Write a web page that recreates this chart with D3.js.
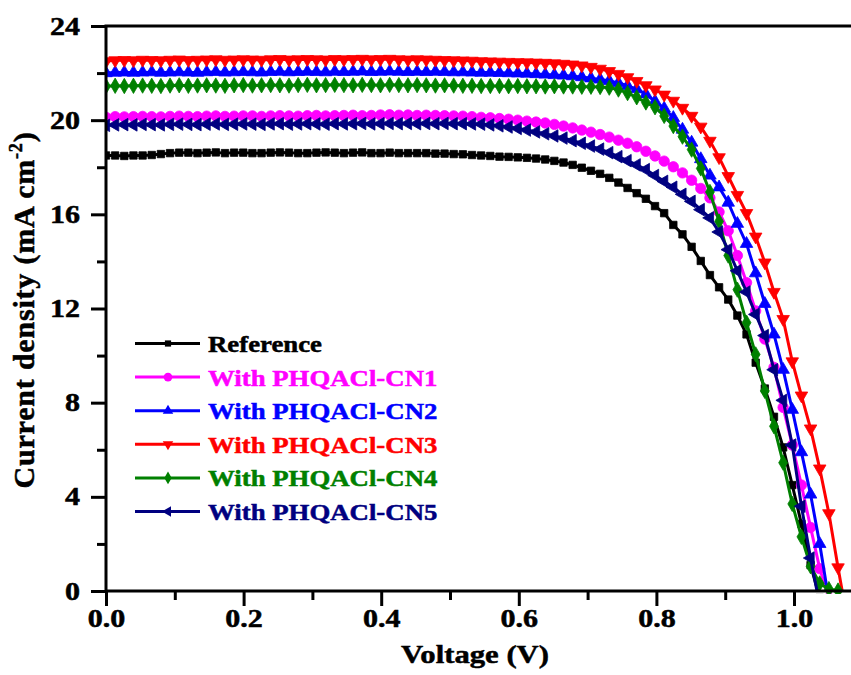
<!DOCTYPE html>
<html>
<head>
<meta charset="utf-8">
<script src="https://cdnjs.cloudflare.com/ajax/libs/d3/7.8.5/d3.min.js"></script>
<style>
body { margin: 0; background: #fff; }
svg text { font-family: "Liberation Serif", "Times New Roman", serif; font-weight: bold; stroke-width: 0.5px; }
</style>
</head>
<body>
<svg width="851" height="675"></svg>
<script>
// voltage sweep step (V)
var vStep = 0.0133;

var seriesNames = ["Reference", "With PHQACl-CN1", "With PHQACl-CN2", "With PHQACl-CN3", "With PHQACl-CN4", "With PHQACl-CN5"];
var seriesColors = ["#000000", "#ff00ff", "#0000ff", "#ff0000", "#008000", "#000080"];

// current density (mA cm-2), one value per sweep step starting at 0 V
var jRef = [18.50, 18.50, 18.48, 18.50, 18.50, 18.52, 18.56,
    18.60, 18.62, 18.62, 18.60, 18.62, 18.63, 18.60, 18.62, 18.62, 18.60, 18.60, 18.62, 18.63, 18.62, 18.60, 18.60, 18.62,
    18.63, 18.62, 18.60, 18.62, 18.63, 18.60, 18.60, 18.62, 18.60, 18.60, 18.60, 18.60, 18.58, 18.58, 18.56, 18.55, 18.52,
    18.50, 18.48, 18.45, 18.44, 18.42, 18.40, 18.37, 18.33, 18.27, 18.20, 18.10, 17.98, 17.85, 17.72, 17.55, 17.35, 17.12,
    16.90, 16.66, 16.35, 16.05, 15.55, 15.15, 14.62, 14.02, 13.42, 12.90, 12.38, 11.70, 10.90, 9.70, 8.60, 7.40, 6.10,
    4.50, 2.85, 1.10, -0.30];
var jCN1 = [20.12, 20.15, 20.14, 20.15, 20.16, 20.15, 20.14, 20.16, 20.17, 20.16,
    20.15, 20.17, 20.18, 20.16, 20.17, 20.18, 20.18, 20.16, 20.18, 20.19,
    20.18, 20.17, 20.19, 20.20, 20.18, 20.19, 20.20, 20.21, 20.19, 20.20,
    20.22, 20.23, 20.21, 20.22, 20.20, 20.21, 20.20, 20.19, 20.18, 20.17, 20.15,
    20.12, 20.10, 20.07, 20.04, 20.00, 19.96, 19.92, 19.88, 19.82, 19.75, 19.67, 19.58, 19.49, 19.39, 19.28, 19.15, 19.02,
    18.87, 18.68, 18.48, 18.26, 18.02, 17.76, 17.45, 17.10, 16.70, 16.10, 15.30, 14.25, 13.10, 11.90, 10.70, 9.50, 7.80,
    6.20, 4.50, 2.70, 0.95, -0.30];
var jCN2 = [22.00, 22.02, 22.03, 22.02, 22.03, 22.04, 22.02, 22.03, 22.04, 22.03,
    22.02, 22.04, 22.05, 22.03, 22.04, 22.05, 22.04, 22.03, 22.05, 22.06,
    22.04, 22.05, 22.06, 22.05, 22.04, 22.06, 22.05, 22.06, 22.07, 22.05,
    22.06, 22.07, 22.06, 22.05, 22.06, 22.05, 22.06, 22.05, 22.04, 22.04, 22.03,
    22.02, 22.02, 22.01, 22.00, 21.99, 21.98, 21.96, 21.94, 21.92,
    21.90, 21.87, 21.83, 21.78, 21.73, 21.67, 21.58, 21.46, 21.32, 21.10,
    20.80, 20.50, 20.10, 19.60, 19.05, 18.35, 17.65, 17.15, 16.50, 15.60,
    14.75, 13.50, 12.20, 10.90, 9.40, 7.70, 5.90, 4.10, 2.00, -0.40];
var jCN3 = [22.50, 22.54, 22.55, 22.54, 22.56, 22.55, 22.54, 22.56, 22.57, 22.55,
    22.56, 22.57, 22.58, 22.56, 22.57, 22.58, 22.57, 22.56, 22.58, 22.59,
    22.57, 22.58, 22.59, 22.58, 22.57, 22.59, 22.58, 22.59, 22.60, 22.58,
    22.59, 22.60, 22.58, 22.57, 22.58, 22.57, 22.56, 22.55, 22.54, 22.53, 22.52,
    22.50, 22.49, 22.48, 22.47, 22.46, 22.45, 22.44, 22.43, 22.41,
    22.39, 22.36, 22.32, 22.26, 22.18, 22.08, 21.96, 21.82, 21.66, 21.48,
    21.30, 21.08, 20.82, 20.52, 20.18, 19.72, 19.12, 18.42, 17.62, 16.82,
    16.05, 15.05, 13.95, 12.70, 11.55, 9.75, 8.30, 6.90, 5.20, 3.30,
    1.00, -1.20];
var jCN4 = [21.44, 21.46, 21.45, 21.46, 21.47, 21.46, 21.45, 21.47, 21.48, 21.46,
    21.47, 21.48, 21.47, 21.46, 21.48, 21.49, 21.47, 21.48, 21.49, 21.48,
    21.47, 21.49, 21.50, 21.48, 21.49, 21.50, 21.49, 21.48, 21.50, 21.49,
    21.48, 21.50, 21.49, 21.48, 21.49, 21.48, 21.47, 21.48, 21.47, 21.46, 21.46,
    21.45, 21.45, 21.45, 21.44, 21.45, 21.44, 21.44, 21.43, 21.44,
    21.43, 21.43, 21.42, 21.42, 21.41, 21.38, 21.30, 21.15, 20.97, 20.75,
    20.55, 20.18, 19.75, 19.30, 18.75, 17.95, 16.95, 15.70, 14.25, 12.80,
    11.40, 10.05, 8.50, 7.00, 5.45, 3.70, 2.30, 1.05, 0.32, 0.08,
    0.02];
var jCN5 = [19.78, 19.80, 19.81, 19.80, 19.82, 19.81, 19.80, 19.82, 19.83, 19.82,
    19.81, 19.83, 19.84, 19.82, 19.83, 19.84, 19.83, 19.82, 19.84, 19.85,
    19.83, 19.84, 19.85, 19.84, 19.83, 19.85, 19.84, 19.85, 19.86, 19.84,
    19.85, 19.86, 19.85, 19.86, 19.85, 19.86, 19.85, 19.86, 19.85, 19.85, 19.84,
    19.83, 19.80, 19.76, 19.71, 19.65, 19.58, 19.50, 19.42, 19.33,
    19.24, 19.13, 19.02, 18.90, 18.77, 18.62, 18.45, 18.28, 18.10, 17.90,
    17.65, 17.40, 17.15, 16.85, 16.55, 16.20, 15.85, 15.25, 14.50, 13.60,
    12.70, 11.75, 10.85, 9.40, 8.10, 6.20, 3.60, 1.40, -0.60];

var xMajor = [0, 0.2, 0.4, 0.6, 0.8, 1.0];
var xMinor = [0.1, 0.3, 0.5, 0.7, 0.9];
var yMajor = [0, 4, 8, 12, 16, 20, 24];
var yMinor = [2, 6, 10, 14, 18, 22];

var seriesData = [jRef, jCN1, jCN2, jCN3, jCN4, jCN5];
var symbols = [
    { type: d3.symbolSquare, size: 55, rot: 0 },
    { type: d3.symbolCircle, size: 85, rot: 0 },
    { type: d3.symbolTriangle, size: 68, rot: 0 },
    { type: d3.symbolTriangle, size: 68, rot: 180 },
    { type: d3.symbolDiamond, size: 68, rot: 0 },
    { type: d3.symbolTriangle, size: 68, rot: -90 }
];

var svg = d3.select("svg"),
    width = +svg.attr("width"),
    height = +svg.attr("height");

var plotLeft = 106, plotRight = 851, plotTop = 26, plotBottom = 591;

var x = d3.scaleLinear().domain([0, 1]).range([plotLeft, 794]);
var y = d3.scaleLinear().domain([0, 24]).range([plotBottom, plotTop]);

svg.append("rect").attr("width", width).attr("height", height).attr("fill", "#fff");

var defs = svg.append("defs");
defs.append("clipPath").attr("id", "clipLines")
    .append("rect").attr("x", plotLeft).attr("y", plotTop)
    .attr("width", plotRight - plotLeft).attr("height", plotBottom - plotTop);
defs.append("clipPath").attr("id", "clipMarks")
    .append("rect").attr("x", plotLeft).attr("y", plotTop)
    .attr("width", plotRight - plotLeft).attr("height", plotBottom - plotTop + 3);

var line = d3.line()
    .x(function (d, i) { return x(i * vStep); })
    .y(function (d) { return y(d); });

var plot = svg.append("g");

seriesData.forEach(function (vals, k) {
    plot.append("path")
        .attr("clip-path", "url(#clipLines)")
        .attr("d", line(vals))
        .attr("fill", "none")
        .attr("stroke", seriesColors[k])
        .attr("stroke-width", 3)
        .attr("stroke-linejoin", "round");

    var sym = d3.symbol().type(symbols[k].type).size(symbols[k].size);
    plot.append("g")
        .attr("clip-path", "url(#clipMarks)")
        .selectAll("path")
        .data(vals)
        .enter().append("path")
        .attr("d", sym)
        .attr("transform", function (d, i) {
            return "translate(" + x(i * vStep) + "," + y(d) + ") rotate(" + symbols[k].rot + ")";
        })
        .attr("fill", seriesColors[k])
        .attr("stroke", seriesColors[k])
        .attr("stroke-width", 0.8);
});

// axes
function styleAxis(g) {
    g.select(".domain").remove();
    g.selectAll(".tick line").attr("stroke", "#000").attr("stroke-width", 3);
}

var tickScaleX = 1.2;

svg.append("g")
    .attr("transform", "translate(0," + plotBottom + ")")
    .call(d3.axisBottom(x).tickValues(xMinor).tickSize(9).tickFormat(""))
    .call(styleAxis);

var gx = svg.append("g")
    .attr("transform", "translate(0," + plotBottom + ")")
    .call(d3.axisBottom(x).tickValues(xMajor).tickSize(15).tickPadding(3).tickFormat(d3.format(".1f")))
    .call(styleAxis);
gx.selectAll("text")
    .attr("font-size", 25)
    .attr("fill", "#000")
    .attr("stroke", "#000")
    .attr("transform", "scale(" + tickScaleX + ",1)");

svg.append("g")
    .attr("transform", "translate(" + plotLeft + ",0)")
    .call(d3.axisLeft(y).tickValues(yMinor).tickSize(9).tickFormat(""))
    .call(styleAxis);

var gy = svg.append("g")
    .attr("transform", "translate(" + plotLeft + ",0)")
    .call(d3.axisLeft(y).tickValues(yMajor).tickSize(15).tickPadding(6.7).tickFormat(d3.format("d")))
    .call(styleAxis);
gy.selectAll("text")
    .attr("font-size", 25)
    .attr("fill", "#000")
    .attr("stroke", "#000")
    .attr("transform", "scale(" + tickScaleX + ",1)");

// frame lines
svg.append("line").attr("x1", plotLeft).attr("x2", plotRight).attr("y1", plotBottom).attr("y2", plotBottom)
    .attr("stroke", "#000").attr("stroke-width", 3);
svg.append("line").attr("x1", plotLeft).attr("x2", plotLeft).attr("y1", plotTop).attr("y2", plotBottom + 1.5)
    .attr("stroke", "#000").attr("stroke-width", 3);
svg.append("line").attr("x1", plotLeft - 1.5).attr("x2", plotRight).attr("y1", plotTop).attr("y2", plotTop)
    .attr("stroke", "#000").attr("stroke-width", 3);

// axis titles
svg.append("text")
    .attr("transform", "translate(475,663) scale(1.18,1)")
    .attr("text-anchor", "middle")
    .attr("font-size", 26)
    .attr("fill", "#000")
    .attr("stroke", "#000")
    .text("Voltage (V)");

var yTitle = svg.append("text")
    .attr("transform", "translate(34,310) rotate(-90)")
    .attr("text-anchor", "middle")
    .attr("font-size", 30)
    .attr("letter-spacing", 0.8)
    .attr("fill", "#000")
    .attr("stroke", "#000");
yTitle.append("tspan").text("Current density (mA cm");
yTitle.append("tspan").attr("font-size", 18).attr("dy", -12).text("-2");
yTitle.append("tspan").attr("dy", 12).text(")");

// legend
var legend = svg.append("g").attr("transform", "translate(135,343.5)");
var legendRow = legend.selectAll("g")
    .data(seriesNames)
    .enter().append("g")
    .attr("transform", function (d, i) { return "translate(0," + (i * 33.6) + ")"; });

legendRow.append("line")
    .attr("x1", 0).attr("x2", 65)
    .attr("stroke", function (d, i) { return seriesColors[i]; })
    .attr("stroke-width", 3);

legendRow.append("path")
    .attr("d", function (d, i) { return d3.symbol().type(symbols[i].type).size(symbols[i].size * 0.7)(); })
    .attr("transform", function (d, i) { return "translate(33,0) rotate(" + symbols[i].rot + ")"; })
    .attr("fill", function (d, i) { return seriesColors[i]; });

legendRow.append("text")
    .attr("transform", "translate(73,8.5) scale(1.14,1)")
    .attr("font-size", 23.5)
    .attr("fill", function (d, i) { return seriesColors[i]; })
    .attr("stroke", function (d, i) { return seriesColors[i]; })
    .text(function (d) { return d; });
</script>
</body>
</html>
